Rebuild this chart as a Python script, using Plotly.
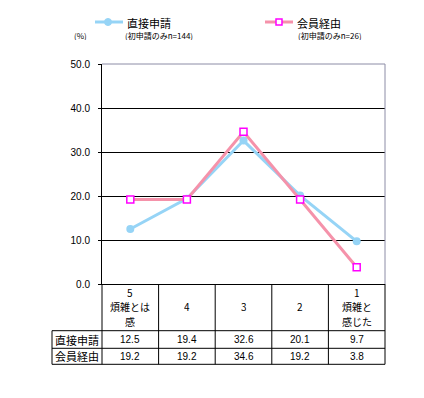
import plotly.graph_objects as go

categories = ["5", "4", "3", "2", "1"]
category_labels = [["5", "煩雑とは", "感"], ["4"], ["3"], ["2"], ["1", "煩雑と", "感じた"]]
series_names = ["直接申請", "会員経由"]
series_notes = ["(初申請のみn=144)", "(初申請のみn=26)"]
direct_values = [12.5, 19.4, 32.6, 20.1, 9.7]
member_values = [19.2, 19.2, 34.6, 19.2, 3.8]

OFF = 8  # browser body margin
W, H = 424 - OFF, 398 - OFF
ML, MR, MT, MB = 102 - OFF, 47 - OFF, 64 - OFF, 114
PW, PH = W - ML - MR, H - MT - MB

def px(xp):
    return (xp - OFF - ML) / PW

def py(yp):
    return (H - MB - (yp - OFF)) / PH

JP = "Noto Sans CJK JP, sans-serif"
NUM = "Liberation Sans, Arial, sans-serif"
BLUE = "#96d4f6"
PINK = "#f592aa"
MAG = "#ff00ff"

fig = go.Figure()
fig.add_trace(go.Scatter(
    x=categories, y=direct_values, name=series_names[0], mode="lines+markers",
    line=dict(color=BLUE, width=3),
    marker=dict(symbol="circle", size=8, color=BLUE),
    showlegend=False, cliponaxis=False))
fig.add_trace(go.Scatter(
    x=categories, y=member_values, name=series_names[1], mode="lines+markers",
    line=dict(color=PINK, width=3),
    marker=dict(symbol="square", size=7, color="white", line=dict(width=1.5, color=MAG)),
    showlegend=False, cliponaxis=False))

shapes = []
ann = []

# plot frame top/right (grey)
shapes.append(dict(type="line", xref="paper", yref="paper", x0=0, x1=1, y0=1, y1=1,
                   line=dict(color="#8c8ca6", width=1)))
shapes.append(dict(type="line", xref="paper", yref="paper", x0=1, x1=1, y0=0, y1=1,
                   line=dict(color="#8c8ca6", width=1)))

# table
row1 = py(330.7)
row2 = py(348.3)
row3 = py(364.3)
left_x = px(52)
n = len(categories)
tbl = dict(color="black", width=1)
for i in range(n + 1):
    xv = i / n
    shapes.append(dict(type="line", xref="paper", yref="paper", x0=xv, x1=xv, y0=row3, y1=0, line=tbl))
shapes.append(dict(type="line", xref="paper", yref="paper", x0=left_x, x1=left_x, y0=row3, y1=row1, line=tbl))
for yv in (row1, row2, row3):
    shapes.append(dict(type="line", xref="paper", yref="paper", x0=left_x, x1=1, y0=yv, y1=yv, line=tbl))

line_ys = [292.5, 306.7, 321.0]
for i, lines in enumerate(category_labels):
    ys = [306.7] if len(lines) == 1 else line_ys
    for txt, yy in zip(lines, ys):
        ann.append(dict(x=(i + 0.5) / n, y=py(yy), xref="paper", yref="paper", text=txt,
                        showarrow=False, font=dict(family=JP, size=10, color="black"),
                        xanchor="center", yanchor="middle", height=13))
for rowy, name, vals in ((py(339.5), series_names[0], direct_values),
                         (py(356.3), series_names[1], member_values)):
    ann.append(dict(x=left_x, y=rowy, xref="paper", yref="paper", text=name, showarrow=False,
                    font=dict(family=JP, size=11, color="black"), xanchor="left",
                    yanchor="middle", xshift=1))
    for i, v in enumerate(vals):
        ann.append(dict(x=(i + 0.5) / n, y=rowy, xref="paper", yref="paper", text=f"{v:.1f}",
                        showarrow=False, font=dict(family=NUM, size=10, color="black"),
                        xanchor="center", yanchor="middle"))

# legend (drawn)
ly = py(22)
for (x0, x1, xm, xt, xn, col, name, note) in (
        (95, 123, 108, 125, 123, BLUE, series_names[0], series_notes[0]),
        (265, 293, 279, 295, 296, PINK, series_names[1], series_notes[1])):
    shapes.append(dict(type="line", xref="paper", yref="paper", x0=px(x0), x1=px(x1),
                       y0=ly, y1=ly, line=dict(color=col, width=3)))
    if col == BLUE:
        shapes.append(dict(type="circle", xref="paper", yref="paper",
                           x0=px(xm - 3.5), x1=px(xm + 3.5), y0=py(25.5), y1=py(18.5),
                           fillcolor=BLUE, line=dict(color=BLUE, width=1)))
    else:
        shapes.append(dict(type="rect", xref="paper", yref="paper",
                           x0=px(xm - 3), x1=px(xm + 3), y0=py(25), y1=py(19),
                           fillcolor="white", line=dict(color=MAG, width=1.5)))
    ann.append(dict(x=px(xt), y=ly, xref="paper", yref="paper", text=name, showarrow=False,
                    font=dict(family=JP, size=11, color="black"), xanchor="left",
                    yanchor="middle", height=13))
    ann.append(dict(x=px(xn), y=py(35.5), xref="paper", yref="paper", text=note, showarrow=False,
                    font=dict(family=JP, size=8, color="black"), xanchor="left",
                    yanchor="middle", height=10))
ann.append(dict(x=px(72), y=py(35.5), xref="paper", yref="paper", text="(%)", showarrow=False,
                font=dict(family=JP, size=8, color="black"), xanchor="left",
                yanchor="middle", height=10))

fig.update_layout(
    width=W, height=H, margin=dict(l=ML, r=MR, t=MT, b=MB, autoexpand=False),
    paper_bgcolor="white", plot_bgcolor="white",
    shapes=shapes, annotations=ann, showlegend=False,
    xaxis=dict(type="category", categoryorder="array", categoryarray=categories,
               range=[-0.5, 4.5], showticklabels=False, showgrid=False, zeroline=False,
               showline=True, linecolor="black", linewidth=1, ticks=""),
    yaxis=dict(range=[0, 50], dtick=10, tickformat=".1f", showgrid=True, gridcolor="black",
               gridwidth=1, zeroline=False, showline=True, linecolor="black", linewidth=1,
               ticks="outside", ticklen=3, tickcolor="black", ticklabelstandoff=6,
               tickfont=dict(family=NUM, size=10, color="black")),
)
fig.write_html("out.html")
